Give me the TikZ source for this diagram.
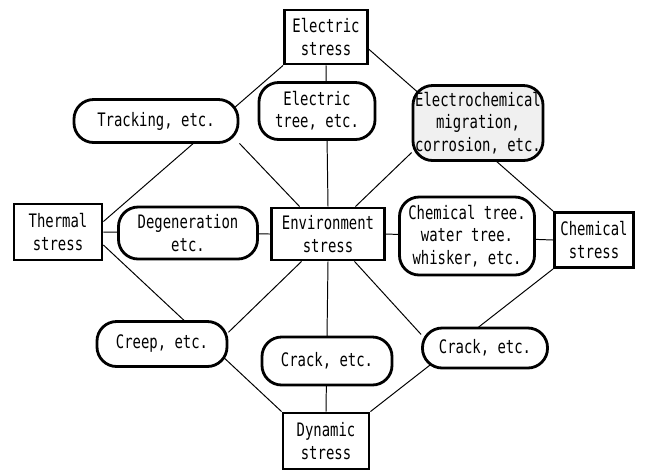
\documentclass[tikz,border=0pt]{standalone}
\usepackage{fontspec}
\setmainfont[FakeStretch=0.75]{DejaVu Sans Mono}
\usetikzlibrary{backgrounds}

\tikzset{
  stressbox/.style={draw, rectangle, line width=2pt, fill=white, align=center, inner sep=1pt},
  effectbox/.style={draw, rectangle, rounded corners=14pt, line width=2pt, fill=white, align=center, inner sep=1pt},
  link/.style={line width=0.7pt}
}

\begin{document}
\begin{tikzpicture}[x=0.025cm, y=-0.025cm, font=\fontsize{13.2}{15.8}\selectfont]
        \useasboundingbox (0,0) rectangle (649,470);
        % stresses
        \node[stressbox, minimum width=2.075cm, minimum height=1.35cm] (elec) at (326,37) {Electric\\stress};
        \node[stressbox, minimum width=2.2cm, minimum height=1.4cm] (therm) at (58,232) {Thermal\\stress};
        \node[stressbox, minimum width=2.825cm, minimum height=1.3cm] (env) at (328,234) {Environment\\stress};
        \node[stressbox, minimum width=1.975cm, minimum height=1.375cm] (chem) at (594,240) {Chemical\\stress};
        \node[stressbox, minimum width=2.15cm, minimum height=1.4cm] (dyn) at (326,441) {Dynamic\\stress};
        % effects
        \node[effectbox, minimum width=4.1cm, minimum height=1.075cm] (track) at (156,121) {Tracking, etc.};
        \node[effectbox, minimum width=2.9cm, minimum height=1.425cm] (etree) at (317,111) {Electric\\tree, etc.};
        \node[effectbox, fill=gray!12, minimum width=3.25cm, minimum height=1.875cm] (echem) at (478,123) {Electrochemical\\migration,\\corrosion, etc.};
        \node[effectbox, minimum width=3.475cm, minimum height=1.3cm] (degen) at (188,233) {Degeneration\\etc.};
        \node[effectbox, minimum width=3.375cm, minimum height=1.95cm] (ctree) at (467,236) {Chemical tree.\\water tree.\\whisker, etc.};
        \node[effectbox, minimum width=3.25cm, minimum height=1.125cm] (creep) at (162,344) {Creep, etc.};
        \node[effectbox, minimum width=3.25cm, minimum height=1.2cm] (crackm) at (327,361) {Crack, etc.};
        \node[effectbox, minimum width=3.125cm, minimum height=1.0cm] (crackr) at (485,348) {Crack, etc.};
        \begin{pgfonlayer}{background}
        \draw[link] (elec.south west) -- (therm.13);
        \draw[link] (elec.-16) -- (chem.north west);
        \draw[link] (therm.-16) -- (dyn.north west);
        \draw[link] (dyn.north east) -- (chem.south west);
        \draw[link] (elec.south) -- (env.north);
        \draw[link] (env.south) -- (dyn.north);
        \draw[link] (therm.east) -- (env.west);
        \draw[link] (env.east) -- (chem.west);
        \draw[link] (track.-15) -- (env.136);
        \draw[link] (echem.204) -- (env.45);
        \draw[link] (creep.10) -- (env.226);
        \draw[link] (crackr.168) -- (env.-46);
        \end{pgfonlayer}
    \end{tikzpicture}
\end{document}
